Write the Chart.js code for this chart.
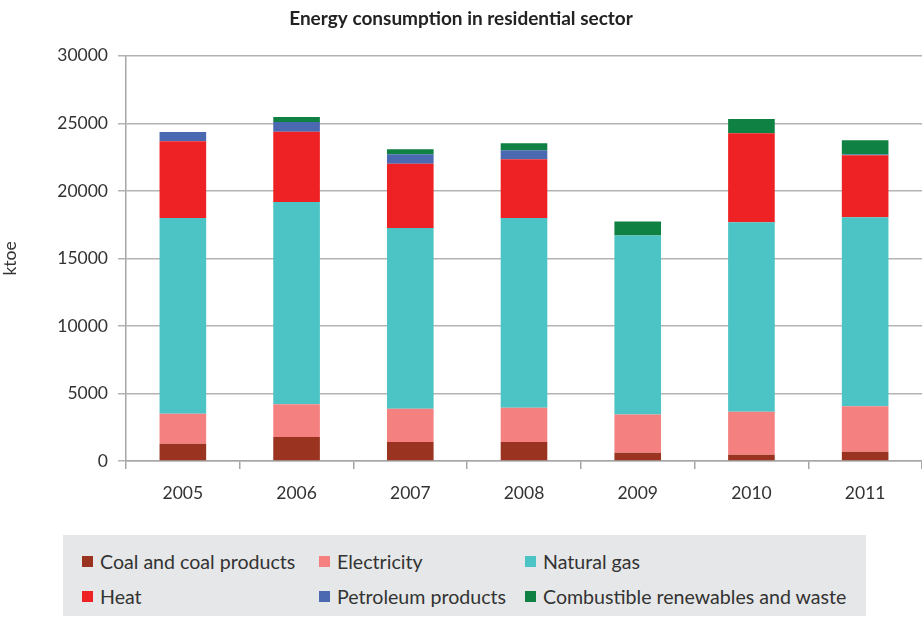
<!DOCTYPE html>
<html>
<head>
<meta charset="utf-8">
<script src="https://cdn.jsdelivr.net/npm/chart.js@4"></script>
<style>
  body { margin: 0; background: #fff; font-family: Lato, "Open Sans", sans-serif; }
  #wrap { position: relative; width: 922px; height: 618px; }
  #chart { position: absolute; left: 0; top: 0; }
  #legend {
    position: absolute; left: 63px; top: 535px; width: 803px; height: 81px;
    background: #e6e7e8; color: #333; font-size: 19.6px;
  }
  .item { position: absolute; display: flex; align-items: center; white-space: nowrap; height: 24px; }
  .sw { width: 11px; height: 11px; margin-right: 7px; }
</style>
</head>
<body>
<div id="wrap">
  <canvas id="chart" width="922" height="531"></canvas>
  <div id="legend"></div>
</div>
<script>
const years = ['2005', '2006', '2007', '2008', '2009', '2010', '2011'];
const coal = [1285, 1780, 1410, 1410, 620, 470, 690];
const electricity = [2205, 2430, 2450, 2525, 2820, 3170, 3370];
const naturalGas = [14500, 14970, 13390, 14055, 13260, 14030, 13980];
const heat = [5690, 5195, 4750, 4360, 0, 6605, 4600];
const petroleum = [670, 715, 720, 660, 0, 0, 60];
const renewables = [0, 370, 370, 520, 1040, 1040, 1055];

const series = [
  { label: 'Coal and coal products', data: coal, color: '#9a3421' },
  { label: 'Electricity', data: electricity, color: '#f48080' },
  { label: 'Natural gas', data: naturalGas, color: '#4cc3c4' },
  { label: 'Heat', data: heat, color: '#ee2224' },
  { label: 'Petroleum products', data: petroleum, color: '#4a69b0' },
  { label: 'Combustible renewables and waste', data: renewables, color: '#0f8143' }
];

const tickFont = { family: 'Lato, "Open Sans", sans-serif', size: 17.5 };

new Chart(document.getElementById('chart'), {
  type: 'bar',
  data: {
    labels: years,
    datasets: series.map(s => ({
      label: s.label,
      data: s.data,
      backgroundColor: s.color,
      borderWidth: 0,
      barPercentage: 0.41,
      categoryPercentage: 1
    }))
  },
  options: {
    responsive: false,
    animation: false,
    plugins: {
      legend: { display: false },
      tooltip: { enabled: false },
      title: {
        display: true,
        text: 'Energy consumption in residential sector',
        color: '#222',
        font: { family: 'Lato, "Open Sans", sans-serif', size: 19, weight: 'bold' },
        padding: { top: 7, bottom: 26 }
      }
    },
    scales: {
      x: {
        stacked: true,
        grid: { offset: true, drawOnChartArea: false, color: '#a6a6a6', lineWidth: 1.5, tickLength: 8 },
        border: { color: '#a6a6a6', width: 1.5 },
        ticks: { color: '#333', font: tickFont, padding: 14 },
        afterFit: s => { s.height = 70; }
      },
      y: {
        stacked: true,
        min: 0, max: 30000,
        grid: { color: '#b3b3b3', lineWidth: 1.5, tickLength: 8 },
        border: { color: '#a6a6a6', width: 1.5 },
        ticks: { stepSize: 5000, color: '#333', font: tickFont, padding: 10, callback: v => String(v) },
        title: { display: true, text: 'ktoe', color: '#333', font: tickFont, padding: 0 },
        afterFit: s => { s.width = 126; }
      }
    }
  }
});

// legend laid out like the reference: 3 columns, 2 rows
const legendPos = [[19, 26], [256, 26], [462, 26], [19, 61], [256, 61], [462, 61]];
const legend = document.getElementById('legend');
series.forEach((s, i) => {
  const el = document.createElement('div');
  el.className = 'item';
  el.style.left = legendPos[i][0] + 'px';
  el.style.top = (legendPos[i][1] - 12) + 'px';
  el.innerHTML = '<span class="sw" style="background:' + s.color + '"></span>' + s.label;
  legend.appendChild(el);
});
</script>
</body>
</html>
